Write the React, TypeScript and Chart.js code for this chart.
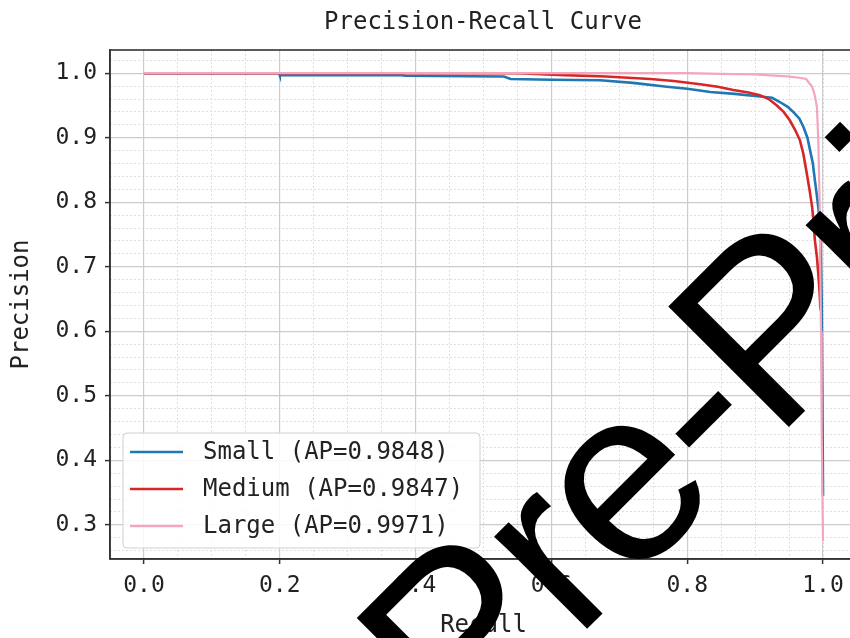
import React, { useEffect, useRef } from "react";
import { Chart, registerables } from "chart.js";

Chart.register(...registerables);

// ---- data ----
const SERIES_NAMES = ["Small", "Medium", "Large"];
const AP_VALUES = [0.9848, 0.9847, 0.9971];
const SERIES_COLORS = ["#1f77b4", "#d62728", "#f4a6bc"];

const RECALL_SMALL = [0, 0.199, 0.2, 0.38, 0.385, 0.53, 0.54, 0.6, 0.672, 0.72, 0.77, 0.8, 0.834, 0.87, 0.907, 0.925, 0.937, 0.948, 0.956, 0.965, 0.971, 0.977, 0.981, 0.985, 0.988, 0.991, 0.993, 0.995, 0.996, 0.998, 0.999, 1.0];
const PRECISION_SMALL = [1.0, 1.0, 0.997, 0.997, 0.996, 0.995, 0.991, 0.99, 0.989, 0.985, 0.979, 0.976, 0.971, 0.968, 0.964, 0.962, 0.955, 0.948, 0.94, 0.93, 0.917, 0.9, 0.88, 0.86, 0.834, 0.81, 0.792, 0.77, 0.741, 0.65, 0.5, 0.345];

const RECALL_MEDIUM = [0, 0.55, 0.62, 0.68, 0.746, 0.78, 0.819, 0.845, 0.868, 0.89, 0.907, 0.92, 0.932, 0.942, 0.951, 0.959, 0.966, 0.971, 0.976, 0.98, 0.984, 0.986, 0.988, 0.991, 0.993, 0.995, 0.996, 0.997];
const PRECISION_MEDIUM = [1.0, 1.0, 0.997, 0.995, 0.991, 0.988, 0.983, 0.979, 0.974, 0.97, 0.966, 0.96, 0.95, 0.94, 0.927, 0.912, 0.896, 0.875, 0.845, 0.82, 0.792, 0.77, 0.741, 0.715, 0.689, 0.66, 0.637, 0.632];

const RECALL_LARGE = [0, 0.8, 0.85, 0.9, 0.947, 0.965, 0.975, 0.984, 0.988, 0.991, 0.993, 0.995, 0.997, 0.998, 0.999, 1.0];
const PRECISION_LARGE = [1.0, 1.0, 0.999, 0.998, 0.995, 0.993, 0.991, 0.979, 0.965, 0.947, 0.896, 0.8, 0.6, 0.45, 0.35, 0.275];

const X_TICKS = [0.0, 0.2, 0.4, 0.6, 0.8, 1.0];
const Y_TICKS = [0.3, 0.4, 0.5, 0.6, 0.7, 0.8, 0.9, 1.0];
const X_RANGE = [-0.05, 1.05];
const Y_RANGE = [0.247, 1.036];
const X_MINOR_STEP = 0.05;
const Y_MINOR_STEP = 0.02;

const TITLE = "Precision-Recall Curve";
const X_TITLE = "Recall";
const Y_TITLE = "Precision";
const WATERMARK = "Pre-Print";

const FONT = "'DejaVu Sans Mono', monospace";
const TEXT = "#222222";
const MAJOR_GRID = "#cccccc";
const MINOR_GRID = "#e0e0e0";

const minorTicks = (min: number, max: number, step: number) => {
  const out: { value: number }[] = [];
  const start = Math.ceil(min / step - 1e-9);
  const end = Math.floor(max / step + 1e-9);
  for (let i = start; i <= end; i++) out.push({ value: +(i * step).toFixed(6) });
  return out;
};

const framePlugin = {
  id: "frameAndExtras",
  afterDraw(chart: any) {
    const { ctx, chartArea: a } = chart;
    // legend box (lower left, inside plot)
    ctx.save();
    const lx = a.left + 13;
    const ly = a.bottom - 126;
    const lw = 357;
    const lh = 115;
    ctx.beginPath();
    if (ctx.roundRect) ctx.roundRect(lx, ly, lw, lh, 4);
    else ctx.rect(lx, ly, lw, lh);
    ctx.fillStyle = "rgba(255,255,255,0.85)";
    ctx.fill();
    ctx.strokeStyle = "#d0d0d0";
    ctx.lineWidth = 1;
    ctx.stroke();
    ctx.font = `24px ${FONT}`;
    ctx.textBaseline = "middle";
    ctx.textAlign = "left";
    SERIES_NAMES.forEach((name, i) => {
      const y = ly + 19 + i * 37;
      ctx.beginPath();
      ctx.moveTo(lx + 7, y);
      ctx.lineTo(lx + 60, y);
      ctx.strokeStyle = SERIES_COLORS[i];
      ctx.lineWidth = 2.5;
      ctx.stroke();
      ctx.fillStyle = TEXT;
      ctx.fillText(`${name} (AP=${AP_VALUES[i].toFixed(4)})`, lx + 80, y + 1);
    });
    ctx.restore();

    // spines
    ctx.save();
    ctx.strokeStyle = "#333333";
    ctx.lineWidth = 1.6;
    ctx.strokeRect(a.left, a.top, a.right - a.left, a.bottom - a.top);
    ctx.restore();

    // watermark
    ctx.save();
    ctx.translate(463, 753);
    ctx.rotate(-Math.PI / 4);
    ctx.font = `248px 'Liberation Sans', Arial, sans-serif`;
    try { (ctx as any).letterSpacing = "-7px"; } catch (e) {}
    ctx.fillStyle = "#000000";
    ctx.textBaseline = "alphabetic";
    ctx.fillText(WATERMARK, 0, 0);
    ctx.restore();
  },
};

export default function App() {
  const ref = useRef<HTMLCanvasElement | null>(null);
  useEffect(() => {
    const canvas = ref.current!;
    const mk = (i: number, r: number[], p: number[], w: number) => ({
      label: `${SERIES_NAMES[i]} (AP=${AP_VALUES[i].toFixed(4)})`,
      data: r.map((x, k) => ({ x, y: p[k] })),
      borderColor: SERIES_COLORS[i],
      backgroundColor: SERIES_COLORS[i],
      borderWidth: w,
      pointRadius: 0,
      fill: false,
      tension: 0,
      order: 3 - i,
    });
    const chart = new Chart(canvas, {
      type: "line",
      data: {
        datasets: [
          mk(0, RECALL_SMALL, PRECISION_SMALL, 2.6),
          mk(1, RECALL_MEDIUM, PRECISION_MEDIUM, 2.6),
          mk(2, RECALL_LARGE, PRECISION_LARGE, 2.2),
        ],
      },
      options: {
        responsive: false,
        animation: false,
        devicePixelRatio: 1,
        layout: { padding: 0 },
        plugins: {
          legend: { display: false },
          tooltip: { enabled: false },
          title: {
            display: true,
            text: TITLE,
            color: TEXT,
            font: { family: FONT, size: 24, weight: "normal" },
            padding: { top: 8, bottom: 13.2 },
          },
        },
        scales: {
          xMinor: {
            type: "linear",
            position: "bottom",
            min: X_RANGE[0],
            max: X_RANGE[1],
            afterBuildTicks: (s: any) => { s.ticks = minorTicks(X_RANGE[0], X_RANGE[1], X_MINOR_STEP); },
            afterFit: (s: any) => { s.height = 0; },
            ticks: { display: false },
            grid: { color: MINOR_GRID, lineWidth: 1, drawTicks: false },
            border: { display: false, dash: [2, 2] },
          },
          yMinor: {
            type: "linear",
            position: "left",
            min: Y_RANGE[0],
            max: Y_RANGE[1],
            afterBuildTicks: (s: any) => { s.ticks = minorTicks(Y_RANGE[0], Y_RANGE[1], Y_MINOR_STEP); },
            afterFit: (s: any) => { s.width = 0; },
            ticks: { display: false },
            grid: { color: MINOR_GRID, lineWidth: 1, drawTicks: false },
            border: { display: false, dash: [2, 2] },
          },
          ySpacer: {
            type: "linear",
            position: "right",
            min: Y_RANGE[0],
            max: Y_RANGE[1],
            afterFit: (s: any) => { s.width = 109; },
            ticks: { display: false },
            grid: { display: false, drawTicks: false },
            border: { display: false },
          },
          x: {
            type: "linear",
            position: "bottom",
            min: X_RANGE[0],
            max: X_RANGE[1],
            afterBuildTicks: (s: any) => { s.ticks = X_TICKS.map((v) => ({ value: v })); },
            afterFit: (s: any) => { s.height = 79; },
            ticks: {
              color: TEXT,
              font: { family: FONT, size: 23 },
              padding: 8,
              maxRotation: 0,
              callback: (v: any) => Number(v).toFixed(1),
            },
            grid: { color: MAJOR_GRID, lineWidth: 1.2, tickLength: 5, tickColor: "#333333", tickWidth: 1.5 },
            border: { display: true, color: "#333333", width: 1.6 },
            title: {
              display: true,
              text: X_TITLE,
              color: TEXT,
              font: { family: FONT, size: 24, lineHeight: 1.05 },
              padding: { top: 0, bottom: 0 },
            },
          },
          y: {
            type: "linear",
            position: "left",
            min: Y_RANGE[0],
            max: Y_RANGE[1],
            afterBuildTicks: (s: any) => { s.ticks = Y_TICKS.map((v) => ({ value: v })); },
            afterFit: (s: any) => { s.width = 110; },
            ticks: {
              color: TEXT,
              font: { family: FONT, size: 23 },
              padding: 8,
              callback: (v: any) => Number(v).toFixed(1),
            },
            grid: { color: MAJOR_GRID, lineWidth: 1.2, tickLength: 5, tickColor: "#333333", tickWidth: 1.5 },
            border: { display: true, color: "#333333", width: 1.6 },
            title: {
              display: true,
              text: Y_TITLE,
              color: TEXT,
              font: { family: FONT, size: 24 },
              padding: { top: 7, bottom: 0 },
            },
          },
        },
      } as any,
      plugins: [framePlugin],
    });
    return () => chart.destroy();
  }, []);
  return (
    <div style={{ position: "fixed", left: 0, top: 0, width: 850, height: 638, overflow: "hidden", background: "#fff" }}>
      <canvas ref={ref} width={966} height={638} style={{ width: 966, height: 638, display: "block" }} />
    </div>
  );
}
